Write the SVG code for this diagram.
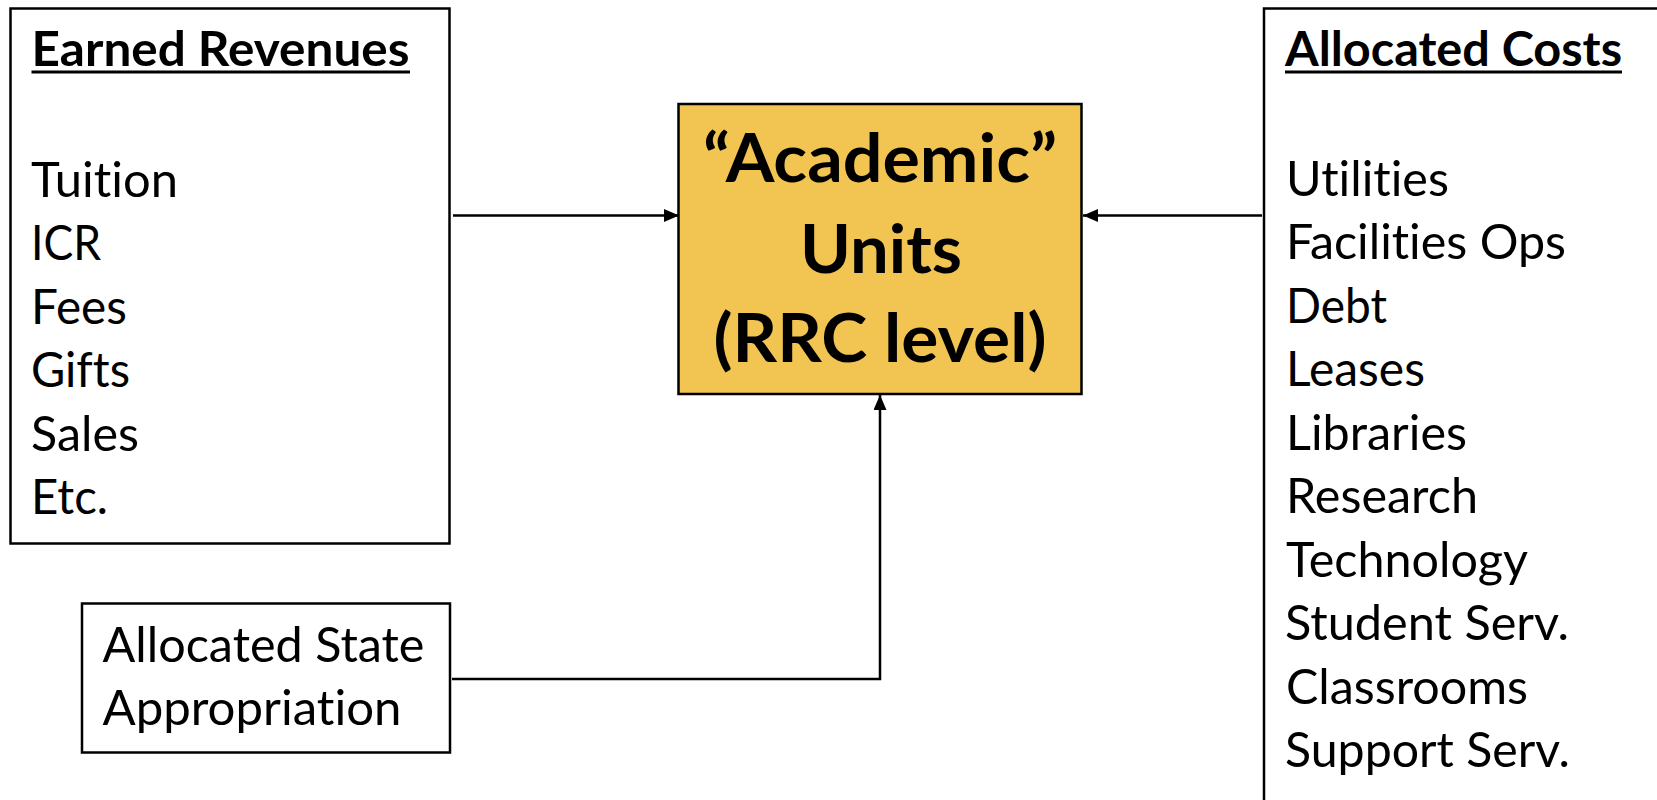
<svg xmlns="http://www.w3.org/2000/svg" width="1657" height="800" viewBox="0 0 1657 800">
<defs>
<style>
text{font-variant-ligatures:none;font-feature-settings:"liga" 0,"clig" 0}
.box{fill:#fff;stroke:#000;stroke-width:2.5}
.core{fill:#F2C451;stroke:#000;stroke-width:2.5}
.t{font-family:Lato,"Open Sans","Liberation Sans",sans-serif;font-size:48px;fill:#000}
.h{font-family:Lato,"Open Sans","Liberation Sans",sans-serif;font-size:47px;font-weight:bold;fill:#000}
.c{font-family:Lato,"Open Sans","Liberation Sans",sans-serif;font-size:67px;font-weight:bold;fill:#000;text-anchor:middle}
.ul{stroke:#000;stroke-width:3}
.conn{fill:none;stroke:#000;stroke-width:2.5}
</style>
<marker id="arr" viewBox="0 0 15 13" refX="15" refY="6.5" markerWidth="15" markerHeight="13" markerUnits="userSpaceOnUse" orient="auto">
<path d="M0,0 L15,6.5 L0,13 Z" fill="#000"/>
</marker>
</defs>
<rect width="1657" height="800" fill="#fff"/>
<g id="earned-revenues">
<rect class="box" x="10.5" y="8.5" width="439" height="535"/>
<text class="h" x="31.5" y="66" textLength="378" lengthAdjust="spacingAndGlyphs">Earned Revenues</text>
<line class="ul" x1="31.5" y1="72" x2="410" y2="72"/>
<text class="t" x="31" y="196.5" textLength="147" lengthAdjust="spacingAndGlyphs">Tuition</text>
<text class="t" x="31" y="260" textLength="70" lengthAdjust="spacingAndGlyphs">ICR</text>
<text class="t" x="31" y="323.5" textLength="96" lengthAdjust="spacingAndGlyphs">Fees</text>
<text class="t" x="31" y="387" textLength="99" lengthAdjust="spacingAndGlyphs">Gifts</text>
<text class="t" x="31" y="450.5" textLength="108" lengthAdjust="spacingAndGlyphs">Sales</text>
<text class="t" x="31" y="514" textLength="77" lengthAdjust="spacingAndGlyphs">Etc.</text>
</g>
<g id="academic-units">
<rect class="core" x="678.5" y="104" width="403" height="290"/>
<text class="c" x="880" y="182" textLength="354" lengthAdjust="spacingAndGlyphs">“Academic”</text>
<text class="c" x="881" y="273" textLength="162" lengthAdjust="spacingAndGlyphs">Units</text>
<text class="c" x="880" y="362" textLength="333" lengthAdjust="spacingAndGlyphs">(RRC level)</text>
</g>
<g id="state-appropriation">
<rect class="box" x="82" y="603.5" width="368" height="149"/>
<text class="t" x="102.5" y="661.5" textLength="322" lengthAdjust="spacingAndGlyphs">Allocated State</text>
<text class="t" x="102.5" y="725" textLength="299" lengthAdjust="spacingAndGlyphs">Appropriation</text>
</g>
<g id="allocated-costs">
<rect class="box" x="1264" y="8.5" width="500" height="900"/>
<text class="h" x="1285" y="66" textLength="337" lengthAdjust="spacingAndGlyphs">Allocated Costs</text>
<line class="ul" x1="1285" y1="72" x2="1622" y2="72"/>
<text class="t" x="1286" y="195.5" textLength="163" lengthAdjust="spacingAndGlyphs">Utilities</text>
<text class="t" x="1286" y="259" textLength="280" lengthAdjust="spacingAndGlyphs">Facilities Ops</text>
<text class="t" x="1286" y="322.5" textLength="101" lengthAdjust="spacingAndGlyphs">Debt</text>
<text class="t" x="1286" y="386" textLength="139" lengthAdjust="spacingAndGlyphs">Leases</text>
<text class="t" x="1286" y="449.5" textLength="181" lengthAdjust="spacingAndGlyphs">Libraries</text>
<text class="t" x="1286" y="513" textLength="192" lengthAdjust="spacingAndGlyphs">Research</text>
<text class="t" x="1286" y="576.5" textLength="242" lengthAdjust="spacingAndGlyphs">Technology</text>
<text class="t" x="1285" y="640" textLength="284" lengthAdjust="spacingAndGlyphs">Student Serv.</text>
<text class="t" x="1286" y="703.5" textLength="242" lengthAdjust="spacingAndGlyphs">Classrooms</text>
<text class="t" x="1285" y="767" textLength="285" lengthAdjust="spacingAndGlyphs">Support Serv.</text>
</g>
<g id="connectors">
<line class="conn" x1="453" y1="215.5" x2="679" y2="215.5" marker-end="url(#arr)"/>
<line class="conn" x1="1262" y1="215.5" x2="1083" y2="215.5" marker-end="url(#arr)"/>
<polyline class="conn" points="452,679 880,679 880,395" marker-end="url(#arr)"/>
</g>
</svg>
